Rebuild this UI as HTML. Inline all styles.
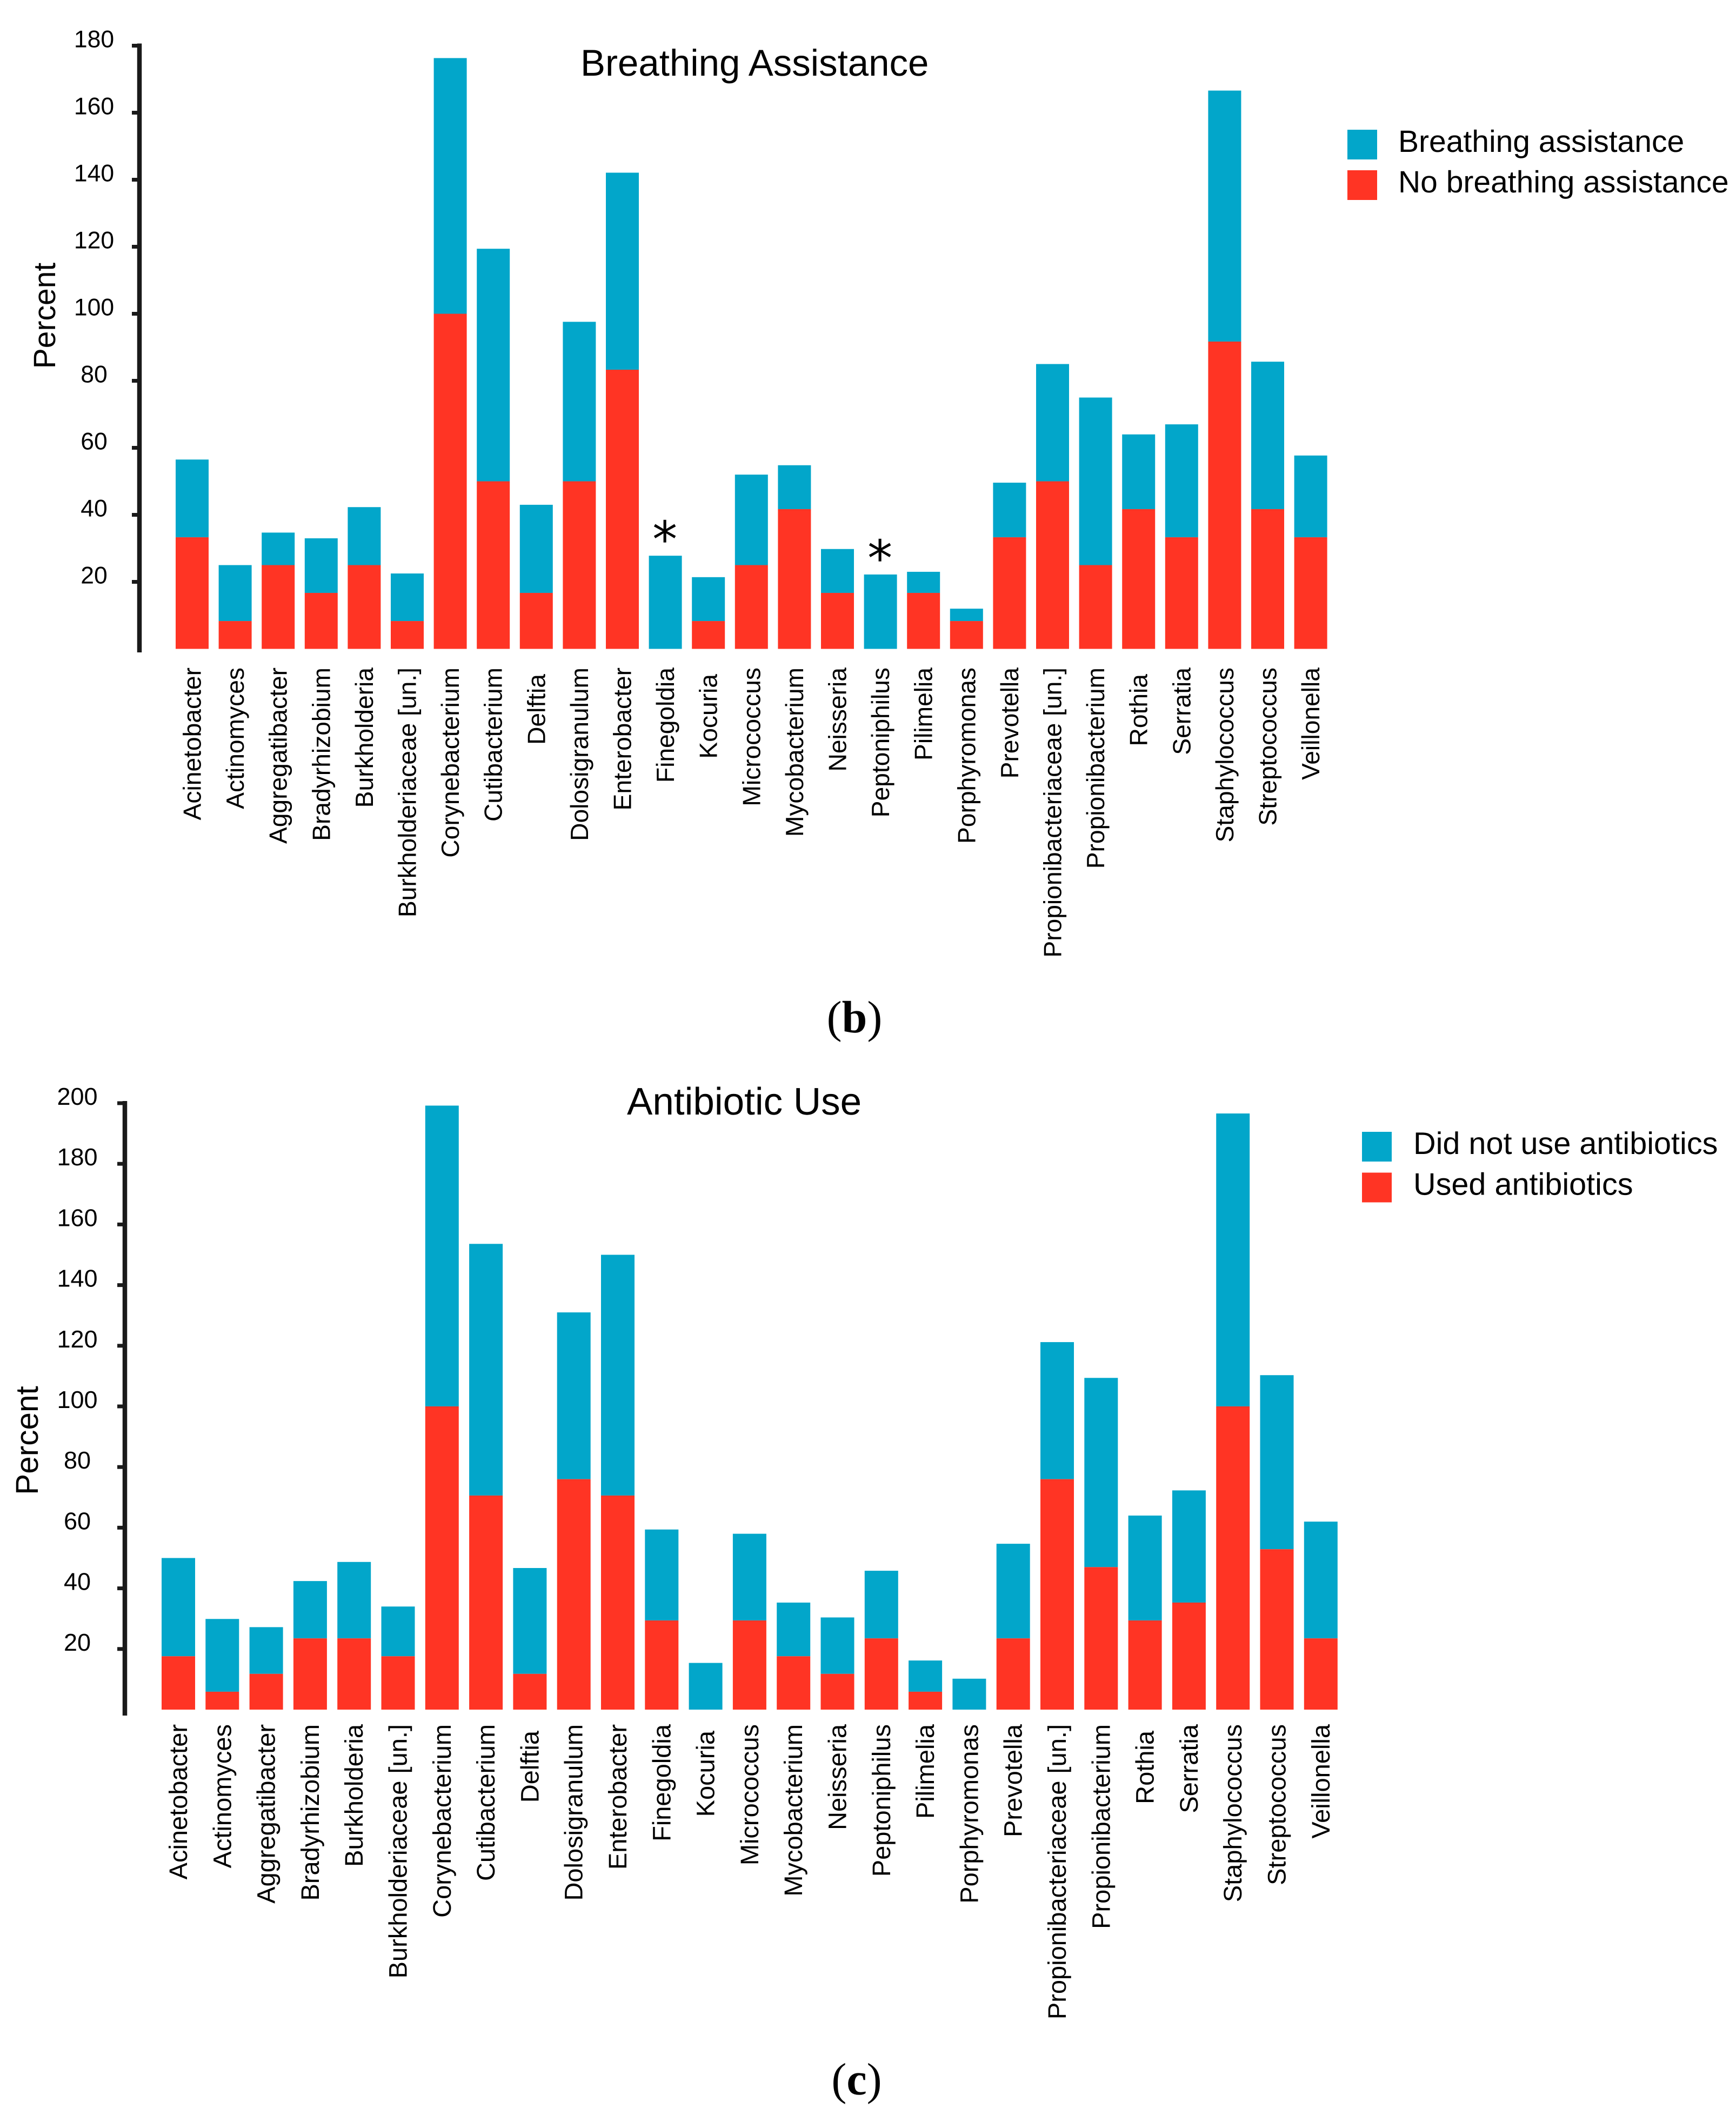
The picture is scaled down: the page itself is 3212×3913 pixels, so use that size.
<!DOCTYPE html>
<html lang="en">
<head>
<meta charset="utf-8">
<title>Breathing Assistance and Antibiotic Use</title>
<style>
html,body{margin:0;padding:0;background:#fff}
body{width:3212px;height:3913px;overflow:hidden}
svg{display:block;font-family:"Liberation Sans",Arial,sans-serif;fill:#000;text-rendering:geometricPrecision}
</style>
</head>
<body>
<svg id="figure" xmlns="http://www.w3.org/2000/svg" width="3212" height="3913" viewBox="0 0 3212 3913">
<rect x="0" y="0" width="3212" height="3913" fill="#ffffff"/>
<g id="panel-b"></g>
<g id="panel-c"></g>
<text x="1581" y="1910" text-anchor="middle" font-family="'Liberation Serif',serif" font-size="84"><tspan>(</tspan><tspan font-weight="700">b</tspan><tspan>)</tspan></text>
<text x="1585" y="3875" text-anchor="middle" font-family="'Liberation Serif',serif" font-size="84"><tspan>(</tspan><tspan font-weight="700">c</tspan><tspan>)</tspan></text>
</svg>
<script>
const genera = ["Acinetobacter","Actinomyces","Aggregatibacter","Bradyrhizobium","Burkholderia","Burkholderiaceae [un.]","Corynebacterium","Cutibacterium","Delftia","Dolosigranulum","Enterobacter","Finegoldia","Kocuria","Micrococcus","Mycobacterium","Neisseria","Peptoniphilus","Pilimelia","Porphyromonas","Prevotella","Propionibacteriaceae [un.]","Propionibacterium","Rothia","Serratia","Staphylococcus","Streptococcus","Veillonella"];

const noBreathingAssistance = [33.3,8.3,25,16.7,25,8.3,100,50,16.7,50,83.3,0,8.3,25,41.7,16.7,0,16.7,8.3,33.3,50,25,41.7,33.3,91.7,41.7,33.3];
const breathingAssistance = [23.2,16.7,9.7,16.3,17.3,14.2,76.3,69.4,26.3,47.6,58.8,27.8,13.1,27,13.1,13.1,22.2,6.3,3.7,16.3,35,50,22.3,33.7,74.9,44,24.4];
const breathingTicks = [20,40,60,80,100,120,140,160,180];
const breathingStarred = ["Finegoldia","Peptoniphilus"];

const usedAntibiotics = [17.6,5.9,11.8,23.5,23.5,17.6,100,70.6,11.8,76,70.6,29.4,0,29.4,17.6,11.8,23.5,5.9,0,23.5,76,47,29.4,35.3,100,52.9,23.5];
const didNotUseAntibiotics = [32.4,24,15.4,18.9,25.2,16.4,99.2,83,34.9,55,79.4,30,15.4,28.6,17.7,18.6,22.3,10.3,10.2,31.2,45.2,62.4,34.6,37,96.6,57.4,38.5];
const antibioticTicks = [20,40,60,80,100,120,140,160,180,200];
const antibioticStarred = [];

const TEAL = '#02a6ca';
const RED = '#ff3424';
const INK = '#1a1a1a';
const SVGNS = 'http://www.w3.org/2000/svg';

function make(parent, tag, props, content) {
  const node = document.createElementNS(SVGNS, tag);
  for (const key in props) node.setAttribute(key, props[key]);
  if (content !== undefined) node.textContent = content;
  parent.appendChild(node);
  return node;
}

function drawPanel(root, cfg) {
  const yScale = v => cfg.y0 - v * cfg.unit;
  const xScale = i => cfg.x0 + i * cfg.step;
  const tickTop = cfg.ticks[cfg.ticks.length - 1];

  const axis = make(root, 'line', {x1: cfg.axisX, x2: cfg.axisX, y1: yScale(tickTop) - 4, y2: cfg.axisBottom, stroke: INK, 'stroke-width': 8.5});
  
  

  cfg.ticks.forEach(t => {
    const mark = make(root, 'line', {x1: cfg.axisX - 14, x2: cfg.axisX, y1: yScale(t), y2: yScale(t), stroke: INK, 'stroke-width': 7});
    
    
    const lab = make(root, 'text', {x: cfg.tickX, y: yScale(t) + 3, 'text-anchor': 'middle', 'font-size': cfg.tickFont}, String(t));
    
    
  });

  const yTitle = make(root, 'text', {transform: 'translate(' + cfg.yTitleX + ',' + cfg.yTitleY + ') rotate(-90)', 'text-anchor': 'middle', 'font-size': cfg.yTitleFont}, 'Percent');
  
  

  const title = make(root, 'text', {x: cfg.titleX, y: cfg.titleY, 'font-size': cfg.titleFont}, cfg.title);
  
  

  const shortLabels = ['Delftia', 'Kocuria', 'Rothia'];
  genera.forEach((name, i) => {
    const slug = name.toLowerCase().replace(/[^a-z]+/g, '-');
    const lower = cfg.lower[i];
    const upper = cfg.upper[i];
    const left = xScale(i);
    const blueBar = make(root, 'rect', {x: left, width: cfg.barW, y: yScale(lower + upper), height: upper * cfg.unit, fill: TEAL});
    
    
    const redBar = make(root, 'rect', {x: left, width: cfg.barW, y: yScale(lower), height: lower * cfg.unit, fill: RED});
    
    

    const nudge = shortLabels.indexOf(name) >= 0 ? 12 : 0;
    const cat = make(root, 'text', {transform: 'translate(' + (left + cfg.barW / 2 + 16) + ',' + (cfg.labelY + nudge) + ') rotate(-90)', 'text-anchor': 'end', 'font-size': cfg.labelFont}, name);
    
    

    if (cfg.starred.indexOf(name) >= 0) {
      const star = make(root, 'text', {x: left + cfg.barW / 2 - 1, y: yScale(lower + upper) + 2, 'text-anchor': 'middle', 'font-size': 92, 'font-family': "'DejaVu Sans',sans-serif"}, '*');
      
      
    }
  });

  cfg.legend.forEach((entry, k) => {
    const swatch = make(root, 'rect', {x: cfg.legendX, y: cfg.legendY + k * cfg.legendGap, width: 55, height: 55, fill: entry.color});
    
    
    const text = make(root, 'text', {x: cfg.legendX + cfg.legendTextGap, y: cfg.legendY + 41 + k * cfg.legendGap, 'font-size': cfg.legendFont}, entry.label);
    
    
  });
}

drawPanel(document.getElementById('panel-b'), {
  title: 'Breathing Assistance', titleX: 1074, titleY: 140, titleFont: 69,
  lower: noBreathingAssistance, upper: breathingAssistance, ticks: breathingTicks, starred: breathingStarred,
  y0: 1200.5, unit: 6.2, x0: 325, step: 79.6, barW: 61,
  axisX: 258, axisBottom: 1207, tickX: 174, tickFont: 44.5, yTitleX: 102, yTitleY: 584, yTitleFont: 57, labelY: 1235, labelFont: 46.2,
  legendX: 2493, legendY: 240, legendGap: 75, legendTextGap: 94, legendFont: 57,
  legend: [{label: 'Breathing assistance', color: TEAL}, {label: 'No breathing assistance', color: RED}]
});

drawPanel(document.getElementById('panel-c'), {
  title: 'Antibiotic Use', titleX: 1160, titleY: 2062, titleFont: 71,
  lower: usedAntibiotics, upper: didNotUseAntibiotics, ticks: antibioticTicks, starred: antibioticStarred,
  y0: 3163, unit: 5.61, x0: 299, step: 81.3, barW: 62,
  axisX: 231, axisBottom: 3174, tickX: 143, tickFont: 45, yTitleX: 70, yTitleY: 2665, yTitleFont: 58.5, labelY: 3190, labelFont: 47,
  legendX: 2520, legendY: 2094, legendGap: 75.5, legendTextGap: 95, legendFont: 57.6,
  legend: [{label: 'Did not use antibiotics', color: TEAL}, {label: 'Used antibiotics', color: RED}]
});
</script>
</body>
</html>
